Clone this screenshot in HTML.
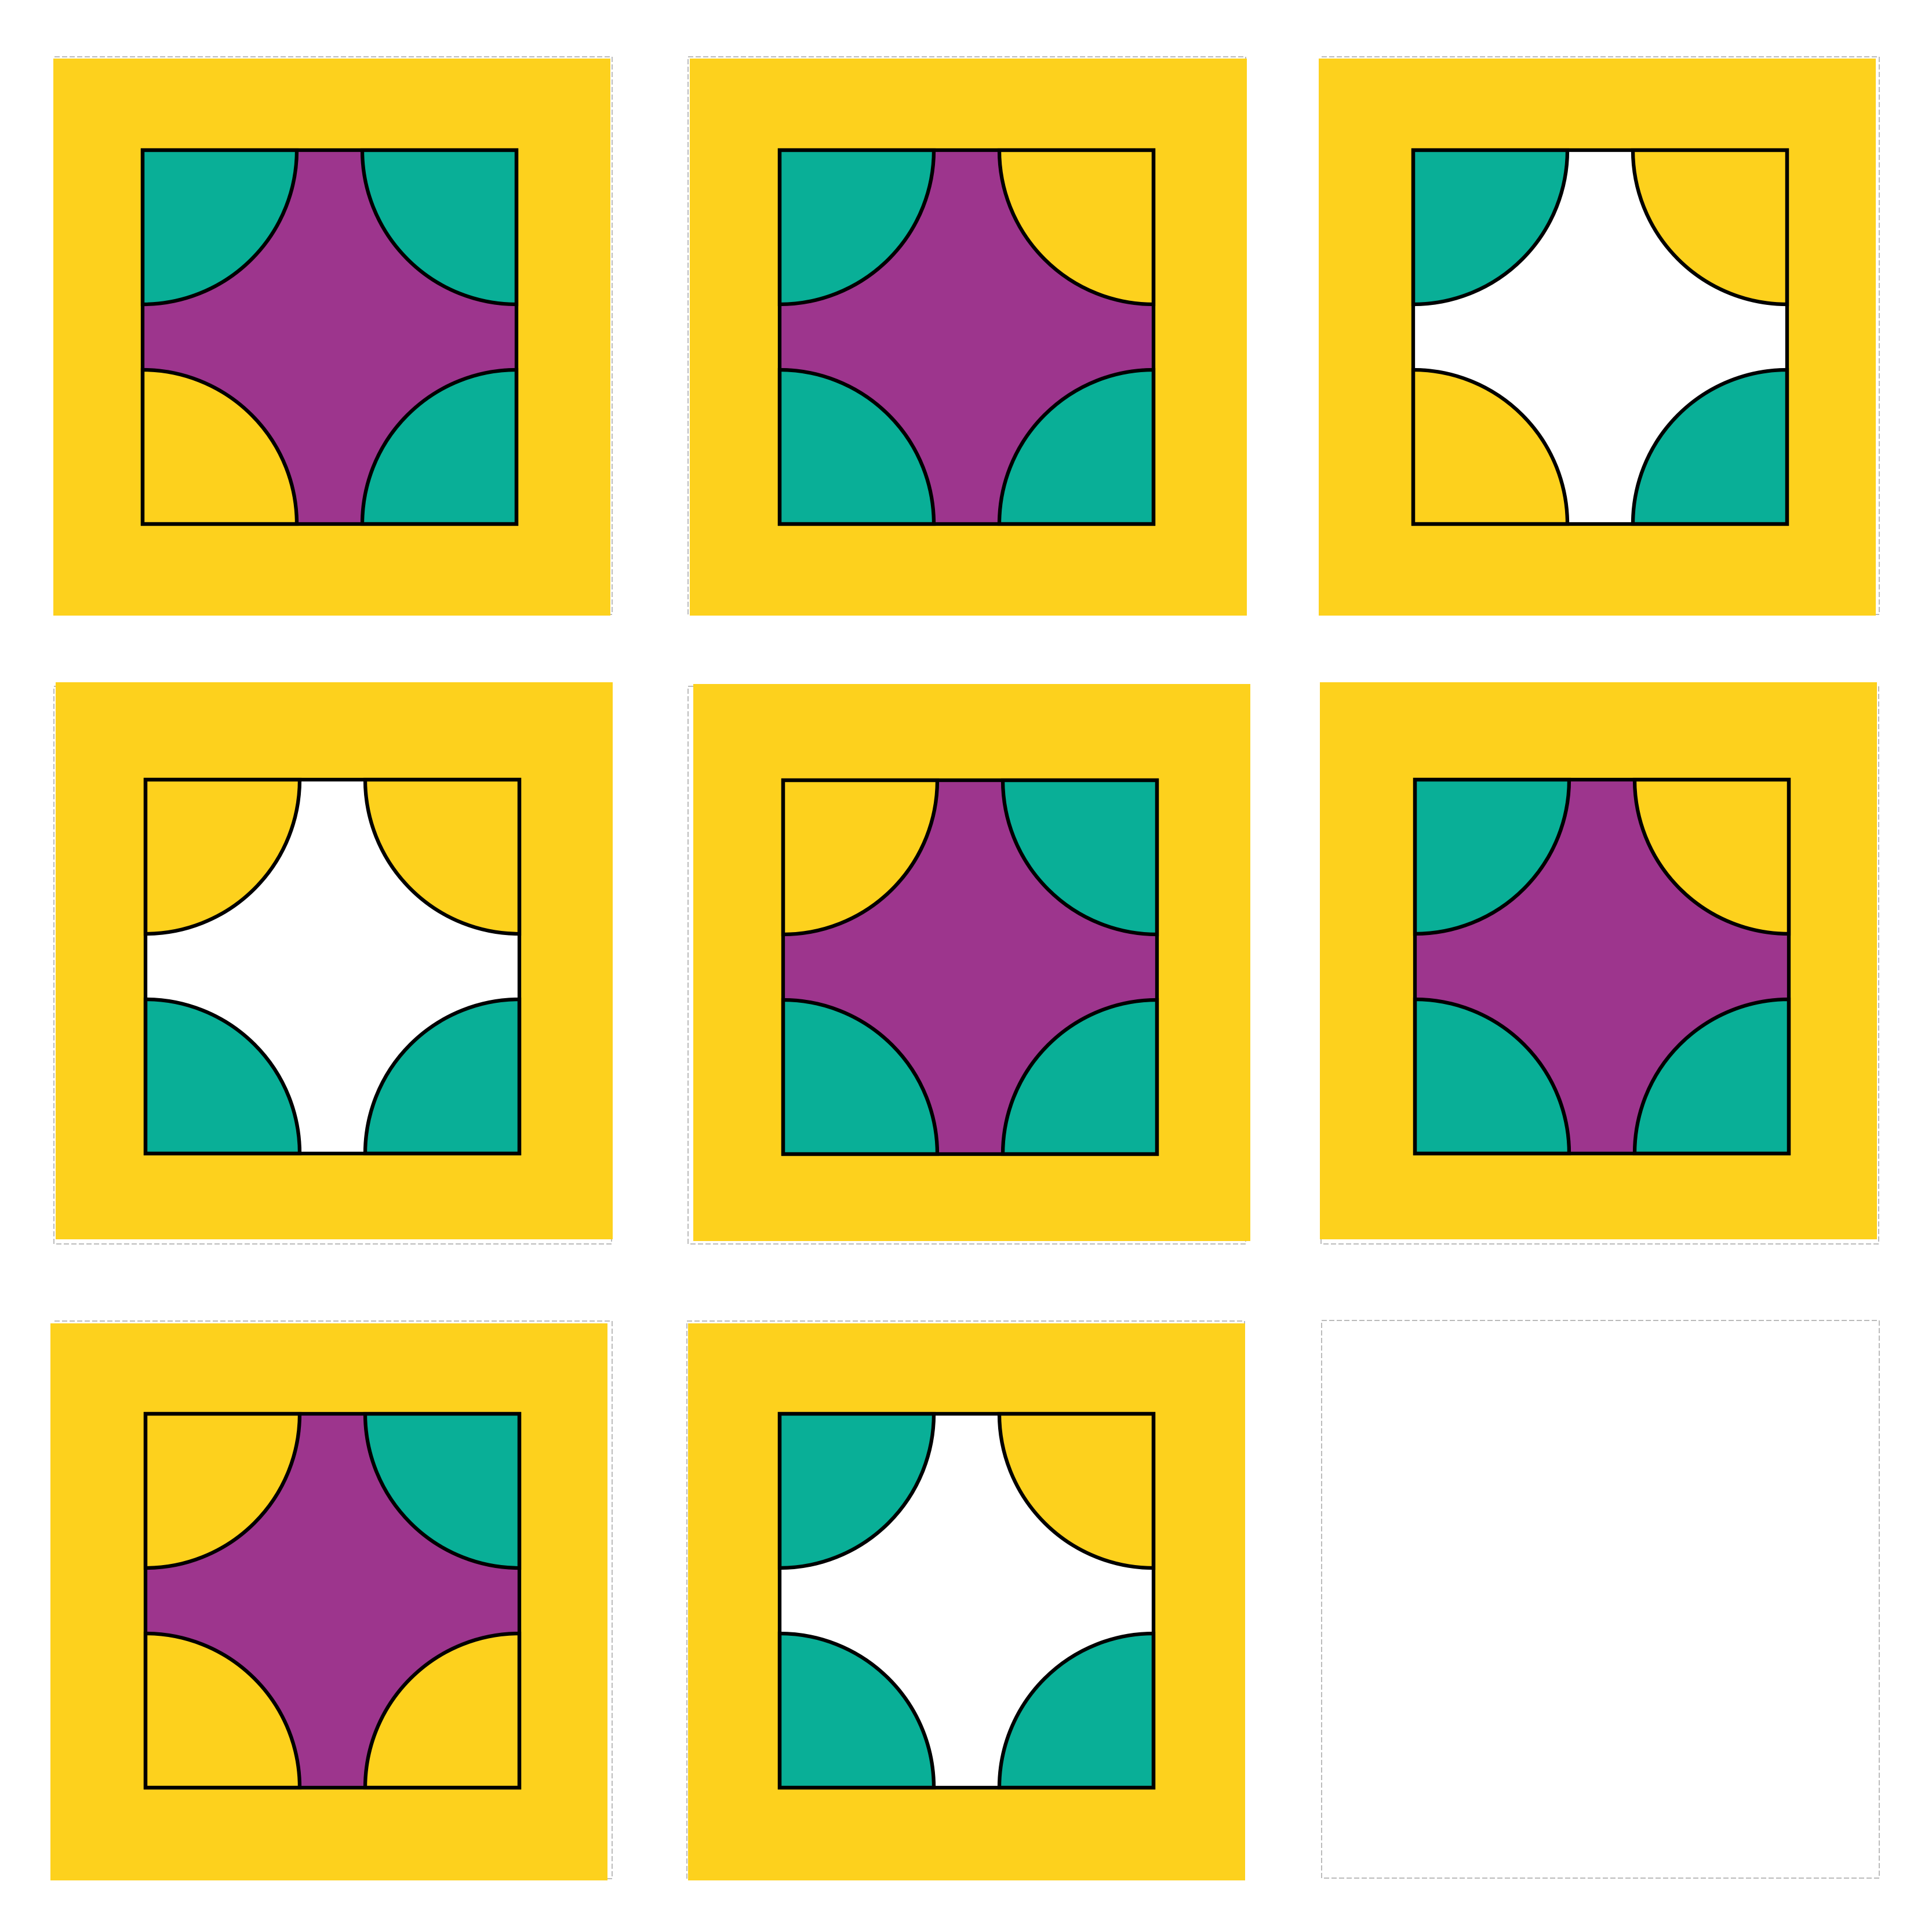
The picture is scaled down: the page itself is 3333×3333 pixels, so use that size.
<!DOCTYPE html>
<html>
<head>
<meta charset="utf-8">
<style>
  html,body{margin:0;padding:0;background:#fff;}
  svg{display:block;}
</style>
</head>
<body>
<svg id="chart" width="3333" height="3333" viewBox="0 0 3333 3333" xmlns="http://www.w3.org/2000/svg"></svg>
<script>
// Tile data: corner colors (TL, TR, BL, BR) and center fill per tile
const tileCorners = [
  ['t','t','y','t'],
  ['t','y','t','t'],
  ['t','y','y','t'],
  ['y','y','t','t'],
  ['y','t','t','t'],
  ['t','y','t','t'],
  ['y','t','y','y'],
  ['t','y','t','t']
];
const tileCenters = ['p','p','w','w','p','p','p','w'];
const cellCount = 9;
// Layout (pixel positions)
const dashX = [94, 1187, 2280, 93, 1187, 2279, 94, 1185, 2280];
const dashY = [98, 98, 98, 1184, 1184, 1184, 2279, 2279, 2278];
const backX = [92, 1190, 2275, 96, 1196, 2277, 87, 1187];
const backY = [101, 101, 101, 1177, 1180, 1177, 2283, 2283];
const innerX = [246, 1345, 2438, 251, 1351, 2441, 251, 1345];
const innerY = [259, 259, 259, 1345, 1346, 1345, 2439, 2439];

const COLORS = {y:'#FDD11D', t:'#09AF97', p:'#9D358D', w:'#FFFFFF'};
const svg = document.getElementById('chart');
const NS = 'http://www.w3.org/2000/svg';
const DASH = 962, BACK = 961, INNER = 645, R = 266, SW = 6.3;

function mk(tag, attrs){ const e=document.createElementNS(NS,tag); for(const k in attrs) e.setAttribute(k,attrs[k]); return e; }

for(let i=0;i<cellCount;i++){
  const g = mk('g',{});
  
  
  svg.appendChild(g);
  const dash = mk('rect',{x:dashX[i],y:dashY[i],width:DASH,height:DASH,fill:'none',stroke:'#bbb','stroke-width':2,'stroke-dasharray':'9 4'});
  
  
  g.appendChild(dash);
  if(i >= tileCorners.length) continue;
  const back = mk('rect',{x:backX[i],y:backY[i],width:BACK,height:BACK,fill:COLORS.y});
  
  
  g.appendChild(back);
  const ix = innerX[i], iy = innerY[i];
  const center = mk('rect',{x:ix,y:iy,width:INNER,height:INNER,fill:COLORS[tileCenters[i]]});
  
  
  g.appendChild(center);
  const c = tileCorners[i];
  const x2 = ix+INNER, y2 = iy+INNER;
  const quads = [
    {name:'corner-top-left', d:`M${ix},${iy} L${ix+R},${iy} A${R},${R} 0 0 1 ${ix},${iy+R} Z`, col:c[0]},
    {name:'corner-top-right', d:`M${x2},${iy} L${x2},${iy+R} A${R},${R} 0 0 1 ${x2-R},${iy} Z`, col:c[1]},
    {name:'corner-bottom-left', d:`M${ix},${y2} L${ix},${y2-R} A${R},${R} 0 0 1 ${ix+R},${y2} Z`, col:c[2]},
    {name:'corner-bottom-right', d:`M${x2},${y2} L${x2-R},${y2} A${R},${R} 0 0 1 ${x2},${y2-R} Z`, col:c[3]}
  ];
  quads.forEach(q=>{
    const p = mk('path',{d:q.d,fill:COLORS[q.col],stroke:'#000','stroke-width':SW});
    
    
    g.appendChild(p);
  });
  const outline = mk('rect',{x:ix,y:iy,width:INNER,height:INNER,fill:'none',stroke:'#000','stroke-width':SW});
  
  
  g.appendChild(outline);
}
</script>
</body>
</html>
